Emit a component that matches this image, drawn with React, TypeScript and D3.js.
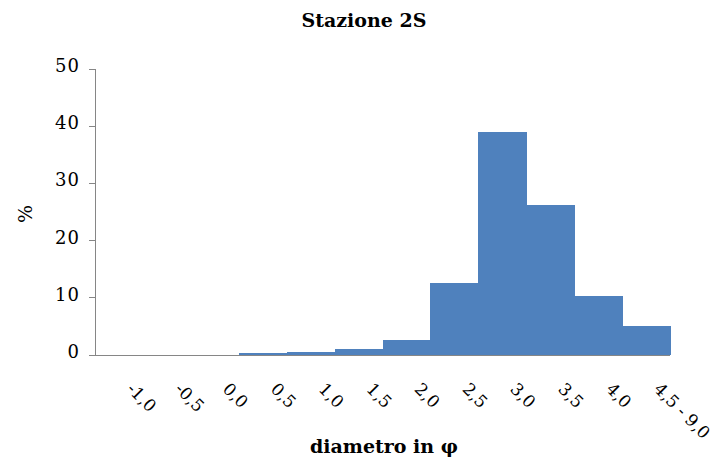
import React from "react";
import * as d3 from "d3";

const categories = ["-1,0", "-0,5", "0,0", "0,5", "1,0", "1,5", "2,0", "2,5", "3,0", "3,5", "4,0", "4,5 - 9,0"];
const values = [0, 0, 0, 0.3, 0.5, 1.1, 2.6, 12.6, 39.0, 26.2, 10.3, 5.1];
const yTicks = [0, 10, 20, 30, 40, 50];

const W = 717, H = 461;
const left = 95, right = 670, top = 69, bottom = 355;
const font = "'DejaVu Serif', serif";

export default function App() {
  const x = d3.scaleBand<string>().domain(categories).range([left, right]).padding(0);
  const y = d3.scaleLinear().domain([0, 50]).range([bottom, top]);
  const axisColor = "#868686";
  return (
    <svg width={W} height={H} style={{ position: "absolute", left: 0, top: 0 }}>
      <rect width={W} height={H} fill="#fff" />
      <text x={364} y={27} textAnchor="middle" fontFamily={font} fontWeight="bold" fontSize={19}>Stazione 2S</text>
      {categories.map((c, i) => (
        <rect key={c} x={x(c)!} width={x.bandwidth() + 0.5} y={y(values[i])} height={bottom - y(values[i])} fill="#4f81bd" shapeRendering="crispEdges" />
      ))}
      <line x1={left} x2={left} y1={top} y2={bottom} stroke={axisColor} shapeRendering="crispEdges" />
      <line x1={left} x2={right} y1={bottom} y2={bottom} stroke={axisColor} shapeRendering="crispEdges" />
      {yTicks.map(t => (
        <g key={t}>
          <line x1={left - 6} x2={left} y1={y(t)} y2={y(t)} stroke={axisColor} shapeRendering="crispEdges" />
          <text x={left - 15} y={y(t) + 3} textAnchor="end" fontFamily={font} fontSize={18} letterSpacing={1}>{t}</text>
        </g>
      ))}
      {categories.map(c => {
        const cx = x(c)! + x.bandwidth() / 2;
        return (
          <text key={c} transform={`translate(${cx + 7},${390}) rotate(45)`} textAnchor="start" fontFamily={font} fontSize={17}>{c}</text>
        );
      })}
      <text transform={`translate(32,214) rotate(-90)`} textAnchor="middle" fontFamily={font} fontSize={19}>%</text>
      <text x={384} y={453} textAnchor="middle" fontFamily={font} fontWeight="bold" fontSize={19}>diametro in φ</text>
    </svg>
  );
}
